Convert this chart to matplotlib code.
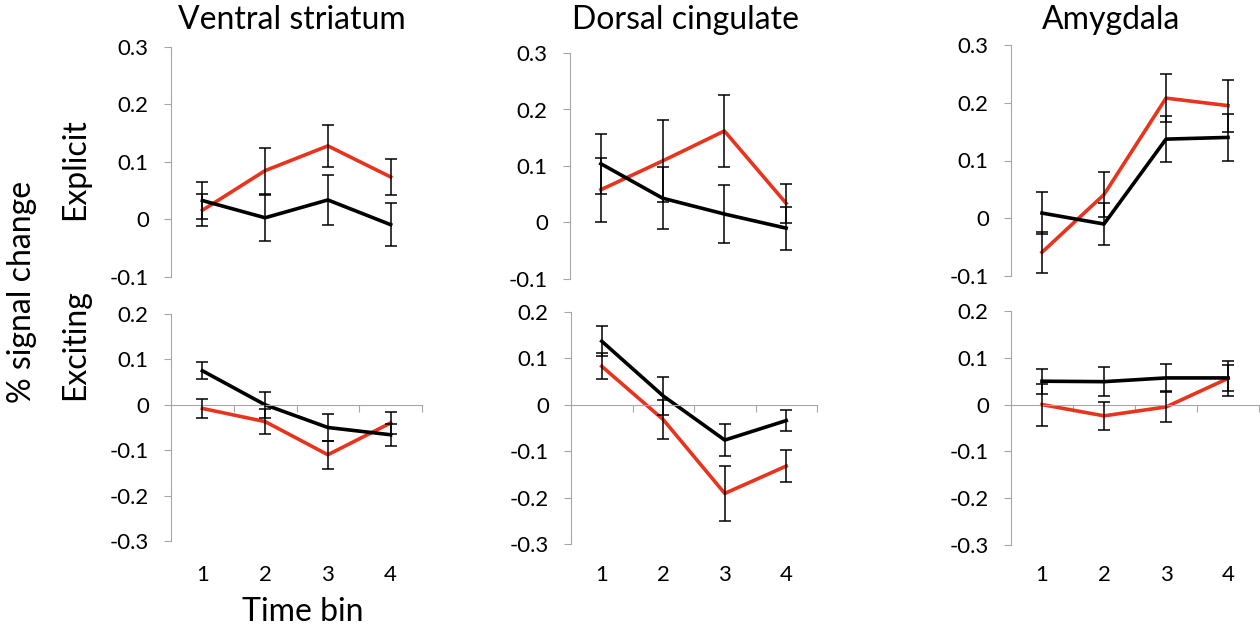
import matplotlib.pyplot as plt
import matplotlib.ticker as mticker
from matplotlib.transforms import blended_transform_factory

plt.rcParams['font.family'] = ['Lato', 'DejaVu Sans']

regions = ["Ventral striatum", "Dorsal cingulate", "Amygdala"]
conditions = ["Explicit", "Exciting"]
bins = [1, 2, 3, 4]

# mean % signal change and error, per region, per condition
black_mean = {
    ("Ventral striatum", "Explicit"): [0.033, 0.003, 0.034, -0.009],
    ("Dorsal cingulate", "Explicit"): [0.104, 0.043, 0.015, -0.010],
    ("Amygdala", "Explicit"): [0.009, -0.010, 0.137, 0.140],
    ("Ventral striatum", "Exciting"): [0.075, 0.000, -0.050, -0.066],
    ("Dorsal cingulate", "Exciting"): [0.137, 0.019, -0.076, -0.034],
    ("Amygdala", "Exciting"): [0.050, 0.049, 0.057, 0.057],
}
black_err = {
    ("Ventral striatum", "Explicit"): [0.032, 0.040, 0.044, 0.037],
    ("Dorsal cingulate", "Explicit"): [0.053, 0.055, 0.052, 0.038],
    ("Amygdala", "Explicit"): [0.037, 0.036, 0.040, 0.040],
    ("Ventral striatum", "Exciting"): [0.019, 0.029, 0.030, 0.024],
    ("Dorsal cingulate", "Exciting"): [0.032, 0.041, 0.034, 0.022],
    ("Amygdala", "Exciting"): [0.027, 0.031, 0.030, 0.027],
}
red_mean = {
    ("Ventral striatum", "Explicit"): [0.016, 0.085, 0.128, 0.074],
    ("Dorsal cingulate", "Explicit"): [0.058, 0.109, 0.162, 0.034],
    ("Amygdala", "Explicit"): [-0.059, 0.041, 0.208, 0.195],
    ("Ventral striatum", "Exciting"): [-0.008, -0.037, -0.110, -0.040],
    ("Dorsal cingulate", "Exciting"): [0.083, -0.032, -0.191, -0.132],
    ("Amygdala", "Exciting"): [0.000, -0.024, -0.005, 0.056],
}
red_err = {
    ("Ventral striatum", "Explicit"): [0.028, 0.040, 0.037, 0.031],
    ("Dorsal cingulate", "Explicit"): [0.057, 0.073, 0.063, 0.035],
    ("Amygdala", "Explicit"): [0.035, 0.039, 0.041, 0.045],
    ("Ventral striatum", "Exciting"): [0.021, 0.028, 0.031, 0.025],
    ("Dorsal cingulate", "Exciting"): [0.028, 0.042, 0.060, 0.034],
    ("Amygdala", "Exciting"): [0.045, 0.030, 0.033, 0.038],
}

W, H = 1260, 634
fig = plt.figure(figsize=(W / 100, H / 100), dpi=100)

# axes boxes in pixels: left, top, right, bottom
boxes = {
    ("Ventral striatum", "Explicit"): (171, 47, 422, 277),
    ("Dorsal cingulate", "Explicit"): (570, 53, 817, 279),
    ("Amygdala", "Explicit"): (1011, 45, 1259, 276),
    ("Ventral striatum", "Exciting"): (171, 314, 422, 541),
    ("Dorsal cingulate", "Exciting"): (571, 312, 817, 544),
    ("Amygdala", "Exciting"): (1011, 311, 1259, 545),
}

red = '#e8341c'
grey = '#a6a6a6'

def fmt(v, pos):
    s = '%.1f' % v
    if abs(v) < 1e-9:
        s = '0'
    return s

for (reg, cond), (l, t, r, b) in boxes.items():
    ax = fig.add_axes([l / W, 1 - b / H, (r - l) / W, (b - t) / H])
    ax.plot(bins, red_mean[(reg, cond)], color=red, lw=2.6, zorder=2)
    ax.plot(bins, black_mean[(reg, cond)], color='black', lw=2.6, zorder=2)
    ax.errorbar(bins, red_mean[(reg, cond)], yerr=red_err[(reg, cond)], fmt='none',
                ecolor='black', elinewidth=1.1, capsize=4.5, capthick=1.1, zorder=3)
    ax.errorbar(bins, black_mean[(reg, cond)], yerr=black_err[(reg, cond)], fmt='none',
                ecolor='black', elinewidth=1.1, capsize=4.5, capthick=1.1, zorder=3)

    ax.set_xlim(0.5, 4.5)
    if cond == "Explicit":
        ax.set_ylim(-0.1, 0.3)
        ax.set_yticks([-0.1, 0, 0.1, 0.2, 0.3])
        ax.spines['bottom'].set_visible(False)
        ax.set_xticks([])
    else:
        ax.set_ylim(-0.3, 0.2)
        ax.set_yticks([-0.3, -0.2, -0.1, 0, 0.1, 0.2])
        ax.spines['bottom'].set_position(('data', 0))
        ax.spines['bottom'].set_color(grey)
        ax.set_xticks([1.5, 2.5, 3.5, 4.5])
        ax.tick_params(axis='x', direction='out', length=5, color=grey, labelbottom=False)
        tr = blended_transform_factory(ax.transData, fig.transFigure)
        for x in bins:
            ax.text(x, 1 - 575 / H, str(x), transform=tr, ha='center', va='center', fontsize=16)
    ax.yaxis.set_major_formatter(mticker.FuncFormatter(fmt))
    ax.tick_params(axis='y', direction='out', length=5, color=grey, labelsize=16, pad=11)
    ax.spines['left'].set_color(grey)
    ax.spines['top'].set_visible(False)
    ax.spines['right'].set_visible(False)
    ax.patch.set_alpha(0)

for name, cx in zip(regions, [292, 685, 1111]):
    fig.text(cx / W, 1 - 20 / H, name, ha='center', va='center', fontsize=23)

fig.text(75 / W, 1 - 169 / H, "Explicit", rotation=90, ha='center', va='center', fontsize=23)
fig.text(75 / W, 1 - 345 / H, "Exciting", rotation=90, ha='center', va='center', fontsize=23)
fig.text(22 / W, 1 - 292 / H, "% signal change", rotation=90, ha='center', va='center', fontsize=23)
fig.text(303 / W, 1 - 612 / H, "Time bin", ha='center', va='center', fontsize=23)

fig.savefig('out.png', dpi=100)
